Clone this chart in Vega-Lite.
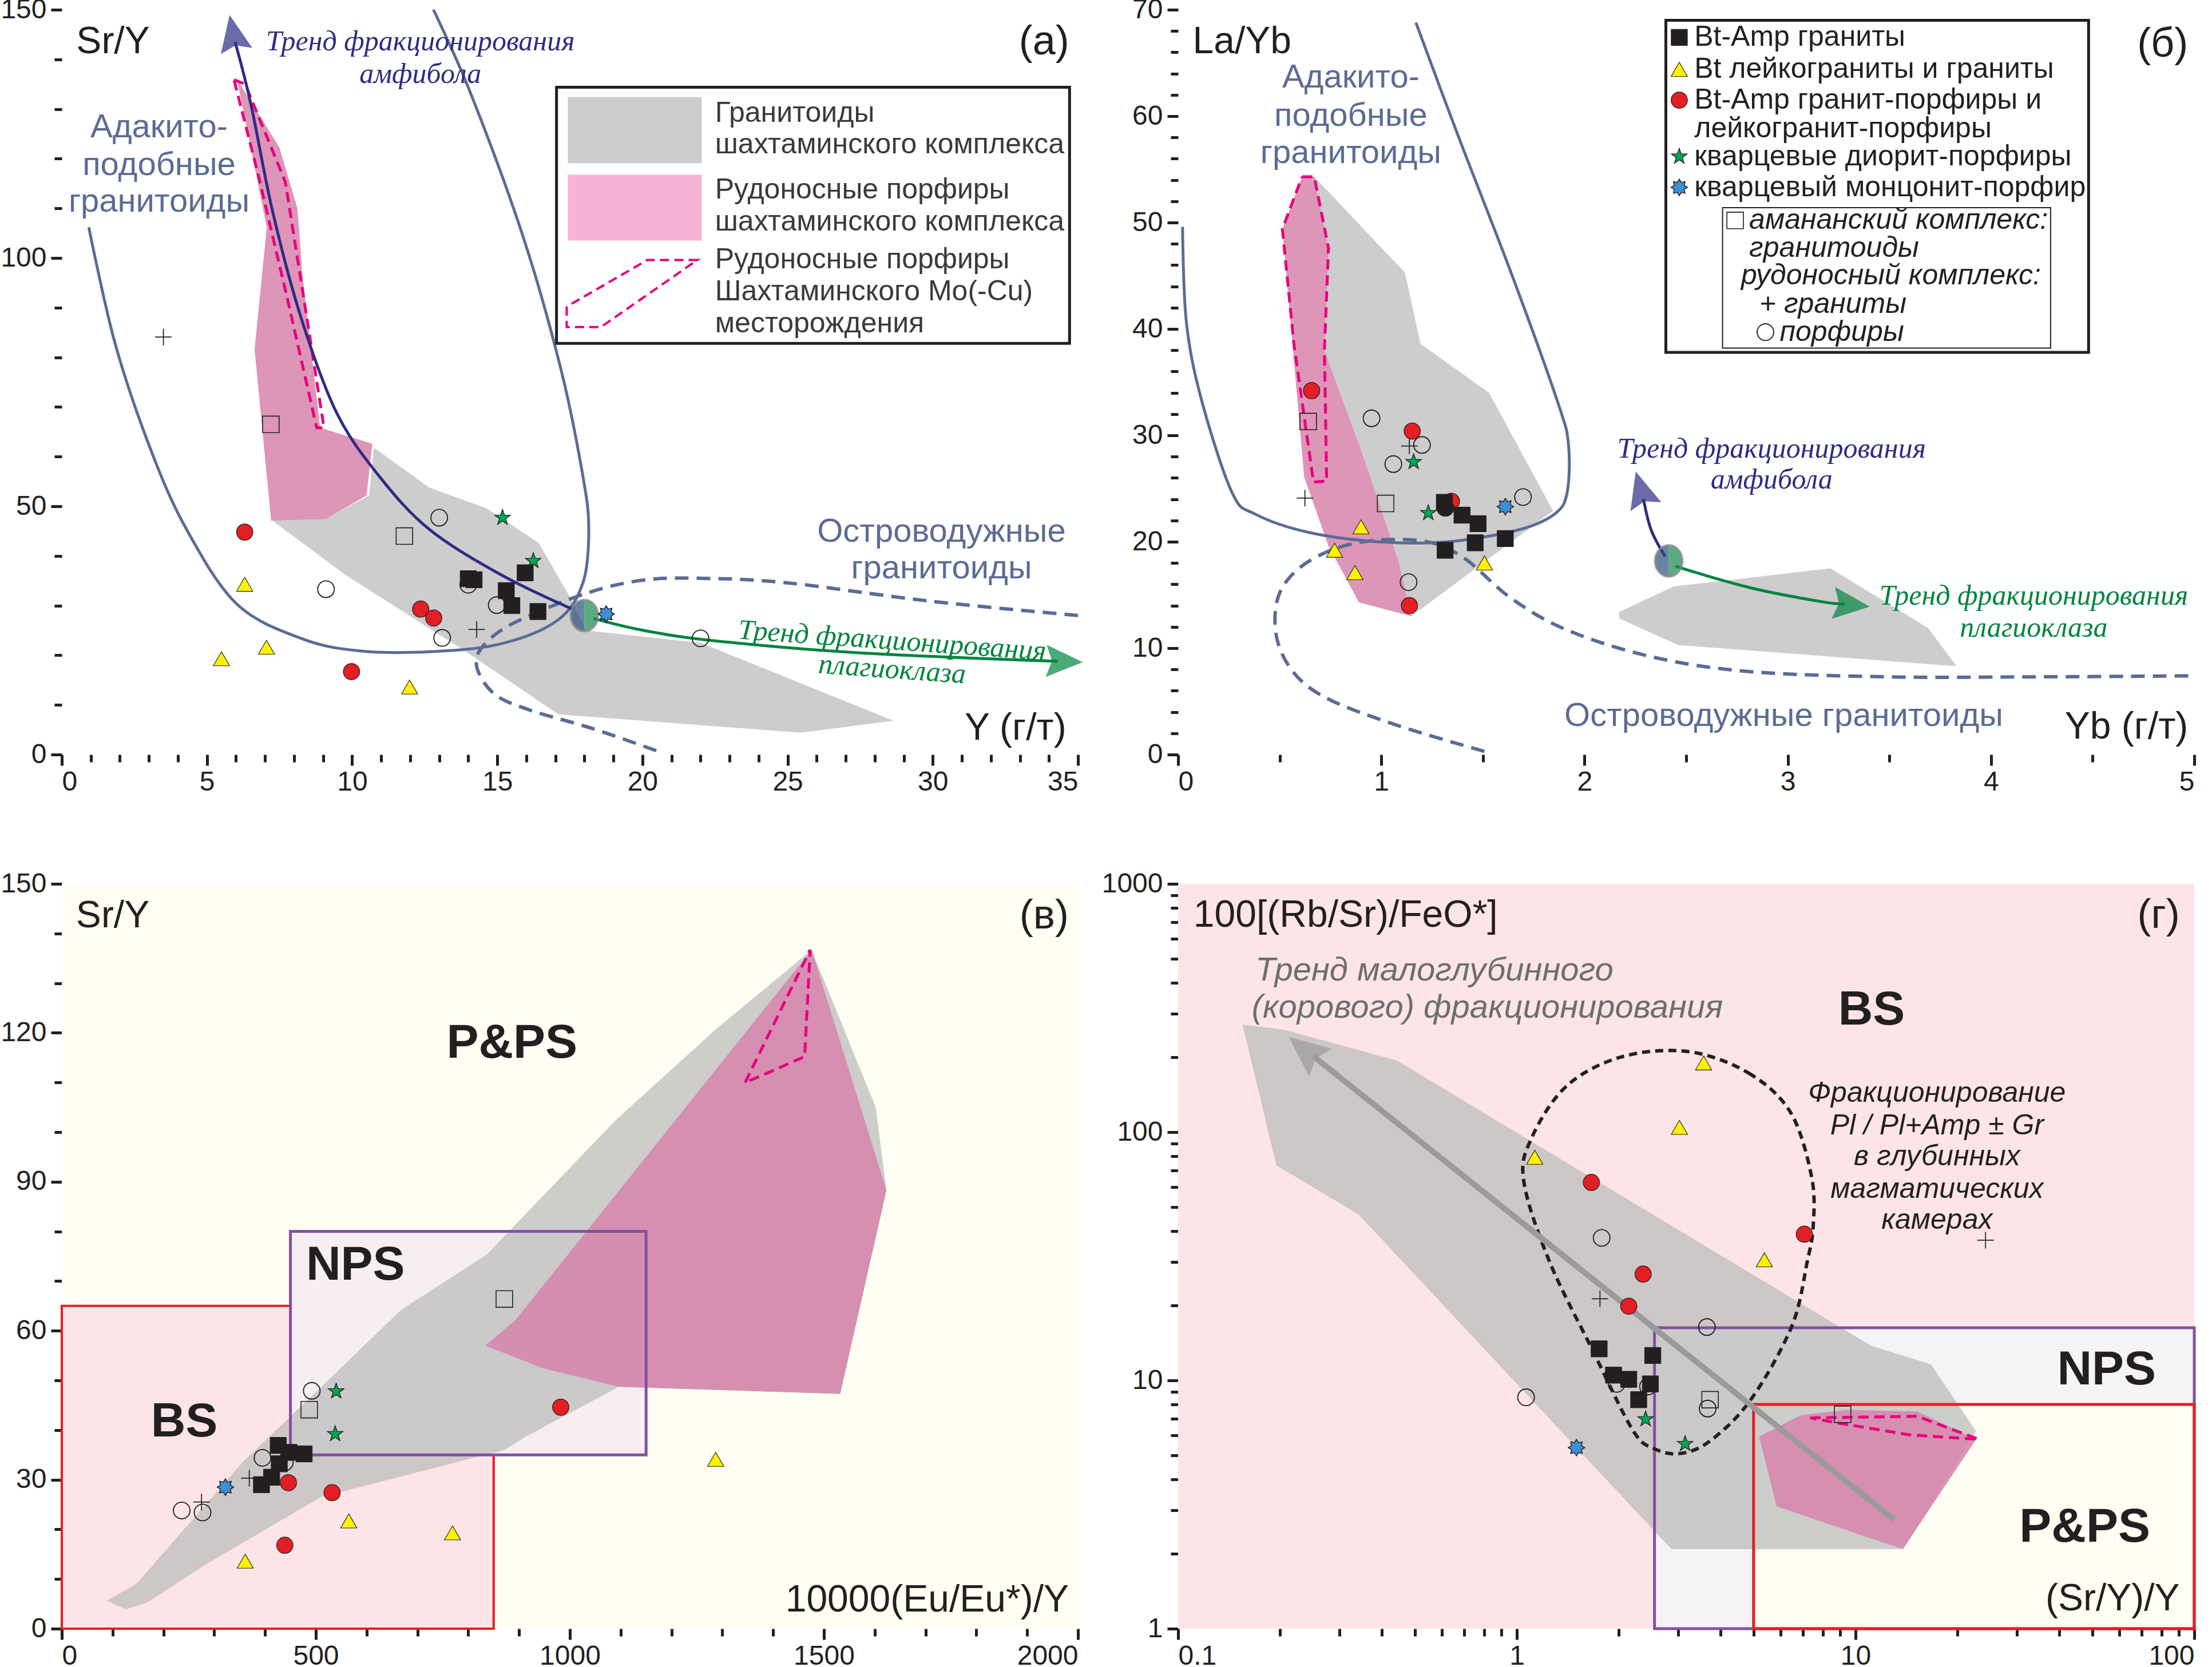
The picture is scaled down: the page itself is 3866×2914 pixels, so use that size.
{
"$schema":"https://vega.github.io/schema/vega-lite/v6.json",
"background":"white",
"padding":{"left":0,"top":-7,"right":0,"bottom":0},
"columns":2,
"spacing":{"row":226,"column":175},
"bounds":"flush",
"resolve":{"scale":{"x":"independent","y":"independent"}},
"config":{"view":{"stroke":null},
"axis":{"domain":false,"grid":false,"title":null,"labelFont":"Liberation Sans Narrow, Liberation Sans, Arial","labelFontSize":48,"labelColor":"#231f20","tickColor":"#231f20","tickWidth":5,"labelOverlap":false,"labelPadding":5},
"axisY":{"labelPadding":8}},
"datasets":{
"gray_a":[{"x":7.26,"y":47.1},{"x":9.1,"y":47.4},{"x":10.58,"y":52.2},{"x":10.75,"y":61.8},{"x":12.65,"y":53.8},{"x":14.63,"y":49.6},{"x":16.43,"y":42.6},{"x":17.56,"y":31.1},{"x":18.05,"y":25.0},{"x":22.01,"y":22.5},{"x":28.65,"y":6.8},{"x":25.45,"y":4.4},{"x":17.1,"y":8.1},{"x":13.93,"y":20.7},{"x":9.79,"y":36.1}],
"pink_a":[{"x":6.03,"y":136.1},{"x":7.5,"y":122.2},{"x":8.12,"y":109.9},{"x":8.29,"y":96.6},{"x":8.9,"y":65.8},{"x":10.7,"y":62.6},{"x":10.5,"y":52.2},{"x":9.1,"y":47.4},{"x":7.21,"y":47.1},{"x":6.64,"y":81.6},{"x":7.06,"y":106.2}],
"pdash_a":[{"x":5.93,"y":135.9},{"x":6.32,"y":135.0},{"x":7.7,"y":115.3},{"x":8.44,"y":88.0},{"x":9.03,"y":65.8},{"x":8.78,"y":65.8},{"x":7.75,"y":92.3},{"x":6.76,"y":116.9},{"x":5.93,"y":135.9}],
"adak_a":[{"x":0.93,"y":106.2},{"x":1.84,"y":82.7},{"x":3.07,"y":61.3},{"x":4.3,"y":45.3},{"x":6.03,"y":30.3},{"x":8.24,"y":23.4},{"x":10.21,"y":20.9},{"x":12.67,"y":20.7},{"x":15.13,"y":22.3},{"x":17.09,"y":27.1},{"x":17.95,"y":34.6},{"x":18.15,"y":45.3},{"x":17.95,"y":56.0},{"x":17.2,"y":77.4},{"x":15.9,"y":104.1},{"x":14.1,"y":132.9},{"x":12.8,"y":150}],
"isl_a":[{"x":35,"y":28.0},{"x":29.9,"y":30.9},{"x":24.96,"y":34.6},{"x":22.0,"y":35.5},{"x":20.0,"y":35.1},{"x":18.08,"y":32.5},{"x":15.6,"y":26.6},{"x":14.5,"y":21.8},{"x":14.3,"y":17.5},{"x":14.9,"y":12.2},{"x":16.1,"y":9.0},{"x":18.3,"y":5.2},{"x":20.66,"y":0.4}],
"amph_a":[{"x":17.58,"y":29.3},{"x":15.13,"y":36.2},{"x":12.67,"y":45.3},{"x":10.94,"y":56.0},{"x":9.47,"y":68.8},{"x":8.24,"y":88.0},{"x":7.26,"y":109.4},{"x":6.52,"y":130.8},{"x":5.97,"y":143.5}],
"plag_a":[{"x":18.32,"y":27.4},{"x":20.04,"y":25.0},{"x":22.5,"y":22.9},{"x":27.4,"y":20.5},{"x":34.3,"y":18.78}],
"pie_a":[{"x":18.0,"y":28.0}],
"pts_a":[{"c":"plus","x":3.5,"y":84.1},{"c":"osq","x":7.2,"y":66.5},{"c":"red","x":6.3,"y":44.8},{"c":"tri","x":6.3,"y":34.3},{"c":"ocirc","x":9.1,"y":33.3},{"c":"tri","x":5.5,"y":19.3},{"c":"tri","x":7.05,"y":21.6},{"c":"red","x":9.98,"y":16.7},{"c":"tri","x":11.98,"y":13.6},{"c":"ocirc","x":13.0,"y":47.7},{"c":"osq","x":11.8,"y":44.0},{"c":"star","x":15.18,"y":47.7},{"c":"star","x":16.24,"y":39.0},{"c":"sq","x":15.96,"y":36.6},{"c":"ocirc","x":14.0,"y":34.2},{"c":"sq","x":14.0,"y":35.4},{"c":"sq","x":14.2,"y":35.2},{"c":"sq","x":15.31,"y":33.0},{"c":"ocirc","x":14.98,"y":30.1},{"c":"sq","x":15.5,"y":30.0},{"c":"sq","x":16.4,"y":28.8},{"c":"red","x":12.36,"y":29.3},{"c":"red","x":12.81,"y":27.5},{"c":"plus","x":14.29,"y":25.2},{"c":"ocirc","x":13.1,"y":23.5},{"c":"burst","x":18.75,"y":28.3},{"c":"ocirc","x":22.0,"y":23.4}],
"gray_b":[{"x":0.67,"y":54.3},{"x":1.116,"y":45.3},{"x":1.193,"y":38.6},{"x":1.53,"y":34.0},{"x":1.845,"y":22.9},{"x":1.148,"y":13.0},{"x":1.086,"y":18.1},{"x":0.91,"y":28.1},{"x":0.72,"y":38.0},{"x":0.74,"y":47.6}],
"gray_b2":[{"x":2.17,"y":13.4},{"x":2.44,"y":15.8},{"x":3.21,"y":17.5},{"x":3.69,"y":11.9},{"x":3.83,"y":8.3},{"x":2.46,"y":10.3},{"x":2.17,"y":12.8}],
"pink_b":[{"x":0.61,"y":54.3},{"x":0.67,"y":54.3},{"x":0.74,"y":47.6},{"x":0.72,"y":38.0},{"x":0.91,"y":28.1},{"x":1.086,"y":18.1},{"x":1.148,"y":13.0},{"x":0.89,"y":14.3},{"x":0.74,"y":19.6},{"x":0.62,"y":26.1},{"x":0.513,"y":49.4}],
"pdash_b":[{"x":0.61,"y":54.3},{"x":0.67,"y":54.3},{"x":0.74,"y":47.6},{"x":0.72,"y":38.0},{"x":0.731,"y":25.7},{"x":0.666,"y":25.6},{"x":0.57,"y":38.6},{"x":0.513,"y":49.4},{"x":0.61,"y":54.3}],
"adak_b":[{"x":0.022,"y":49.6},{"x":0.041,"y":40.6},{"x":0.117,"y":33.2},{"x":0.266,"y":24.6},{"x":0.379,"y":22.6},{"x":0.638,"y":20.9},{"x":0.983,"y":20.0},{"x":1.328,"y":20.0},{"x":1.672,"y":21.1},{"x":1.852,"y":22.6},{"x":1.914,"y":24.6},{"x":1.921,"y":29.1},{"x":1.87,"y":33.0},{"x":1.646,"y":44.9},{"x":1.377,"y":58.2},{"x":1.17,"y":68.8}],
"isl_b":[{"x":1.507,"y":0.3},{"x":1.086,"y":2.7},{"x":0.741,"y":5.2},{"x":0.569,"y":7.7},{"x":0.483,"y":11.2},{"x":0.5,"y":15.2},{"x":0.638,"y":18.1},{"x":0.879,"y":19.9},{"x":1.19,"y":20.1},{"x":1.397,"y":18.6},{"x":1.638,"y":14.7},{"x":1.914,"y":11.7},{"x":2.328,"y":9.2},{"x":2.81,"y":7.8},{"x":3.5,"y":7.3},{"x":4.19,"y":7.3},{"x":5.0,"y":7.4}],
"amph_b":[{"x":2.397,"y":18.6},{"x":2.328,"y":21.1},{"x":2.29,"y":24.0}],
"plag_b":[{"x":2.448,"y":17.7},{"x":2.81,"y":15.7},{"x":3.155,"y":14.4},{"x":3.28,"y":14.15}],
"pie_b":[{"x":2.414,"y":18.2}],
"pts_b":[{"c":"red","x":0.657,"y":34.2},{"c":"osq","x":0.64,"y":31.3},{"c":"plus","x":0.624,"y":24.1},{"c":"ocirc","x":0.952,"y":31.6},{"c":"red","x":1.152,"y":30.4},{"c":"plus","x":1.138,"y":29.0},{"c":"ocirc","x":1.2,"y":29.1},{"c":"ocirc","x":1.059,"y":27.3},{"c":"star","x":1.159,"y":27.5},{"c":"osq","x":1.021,"y":23.6},{"c":"tri","x":0.9,"y":21.4},{"c":"tri","x":0.77,"y":19.2},{"c":"tri","x":0.87,"y":17.1},{"c":"star","x":1.231,"y":22.7},{"c":"red","x":1.345,"y":23.8},{"c":"sq","x":1.31,"y":23.7},{"c":"dot","x":1.315,"y":23.2},{"c":"sq","x":1.397,"y":22.5},{"c":"sq","x":1.476,"y":21.7},{"c":"sq","x":1.314,"y":19.2},{"c":"sq","x":1.462,"y":19.9},{"c":"sq","x":1.61,"y":20.3},{"c":"tri","x":1.507,"y":18.0},{"c":"burst","x":1.61,"y":23.3},{"c":"ocirc","x":1.697,"y":24.2},{"c":"ocirc","x":1.134,"y":16.2},{"c":"red","x":1.138,"y":14.0}],
"legsym_b":[{"c":"sq","x":2.466,"y":67.4},{"c":"tri","x":2.466,"y":64.4},{"c":"red","x":2.466,"y":61.5},{"c":"star","x":2.466,"y":56.2},{"c":"burst","x":2.466,"y":53.3},{"c":"osq","x":2.741,"y":50.2},{"c":"ocirc","x":2.89,"y":39.7}],
"gray_c":[{"x":88.5,"y":5.6},{"x":126.5,"y":3.9},{"x":168.7,"y":5.3},{"x":281.1,"y":12.8},{"x":510,"y":26.5},{"x":871.4,"y":36.0},{"x":913.6,"y":38.7},{"x":1096.3,"y":48.7},{"x":1532,"y":47.3},{"x":1623,"y":88.3},{"x":1602,"y":105.0},{"x":1475.8,"y":136.7},{"x":1286,"y":120.6},{"x":1089,"y":102.3},{"x":836,"y":75.3},{"x":667.6,"y":64.2},{"x":513,"y":48.9},{"x":358.4,"y":33.8},{"x":147.6,"y":9.1}],
"pink_c":[{"x":833.5,"y":57.0},{"x":892.5,"y":62.1},{"x":1475.8,"y":136.7},{"x":1623,"y":88.3},{"x":1532,"y":47.3},{"x":1096.3,"y":48.7},{"x":948.7,"y":52.4}],
"pdash_c":[{"x":1345,"y":110.0},{"x":1473,"y":136.7},{"x":1462,"y":115.2},{"x":1391,"y":112.0},{"x":1345,"y":110.0}],
"pts_c":[{"c":"osq","x":871,"y":66.4},{"c":"ocirc","x":492,"y":47.9},{"c":"osq","x":487,"y":44.1},{"c":"star","x":540,"y":47.8},{"c":"star","x":538,"y":39.2},{"c":"red","x":982,"y":44.6},{"c":"tri","x":1287,"y":34.1},{"c":"ocirc","x":395,"y":34.4},{"c":"ocirc","x":439,"y":33.5},{"c":"sq","x":426,"y":36.9},{"c":"sq","x":447,"y":35.5},{"c":"sq","x":477,"y":35.2},{"c":"sq","x":428,"y":33.2},{"c":"sq","x":413,"y":30.5},{"c":"sq","x":393,"y":29.0},{"c":"plus","x":369,"y":30.3},{"c":"red","x":446,"y":29.4},{"c":"red","x":532,"y":27.4},{"c":"burst","x":322,"y":28.5},{"c":"plus","x":275,"y":25.5},{"c":"ocirc","x":236,"y":23.8},{"c":"ocirc","x":277,"y":23.4},{"c":"tri","x":565,"y":21.7},{"c":"tri","x":769,"y":19.3},{"c":"red","x":439,"y":16.8},{"c":"tri","x":361,"y":13.6}],
"gray_d":[{"x":0.155,"y":271},{"x":0.207,"y":258},{"x":0.443,"y":194},{"x":11.1,"y":13.8},{"x":16.7,"y":11.6},{"x":22.7,"y":6.24},{"x":13.8,"y":2.09},{"x":2.86,"y":2.09},{"x":0.341,"y":46.6},{"x":0.195,"y":73.5}],
"pink_d":[{"x":5.19,"y":5.94},{"x":6.9,"y":7.24},{"x":9.42,"y":7.61},{"x":15.2,"y":7.5},{"x":22.7,"y":5.79},{"x":13.8,"y":2.09},{"x":5.85,"y":3.11}],
"pdash_d":[{"x":7.35,"y":7.06},{"x":15.2,"y":7.17},{"x":23.1,"y":5.79},{"x":14.5,"y":6.03},{"x":8.98,"y":6.72},{"x":7.35,"y":7.06}],
"drop_d":[{"x":3.21,"y":211},{"x":4.83,"y":173},{"x":6.43,"y":120},{"x":7.42,"y":65.9},{"x":7.5,"y":42},{"x":7.2,"y":30},{"x":6.48,"y":16.5},{"x":4.92,"y":8.41},{"x":3.75,"y":5.75},{"x":3.05,"y":5.08},{"x":2.55,"y":5.3},{"x":2.2,"y":6.3},{"x":1.68,"y":13.1},{"x":1.25,"y":30},{"x":1.05,"y":62.7},{"x":1.1,"y":93.3},{"x":1.4,"y":153},{"x":2.04,"y":201}],
"arr_d":[{"x":13.0,"y":2.75},{"x":0.25,"y":203}],
"pts_d":[{"c":"tri","x":3.56,"y":190},{"c":"tri","x":3.02,"y":104.5},{"c":"tri","x":1.13,"y":79.2},{"c":"red","x":1.66,"y":62.7},{"c":"ocirc","x":1.78,"y":37.5},{"c":"red","x":7.06,"y":38.8},{"c":"tri","x":5.38,"y":30.6},{"c":"plus","x":24.2,"y":36.7},{"c":"red","x":2.36,"y":26.8},{"c":"red","x":2.14,"y":19.9},{"c":"plus","x":1.76,"y":21.3},{"c":"ocirc","x":3.64,"y":16.4},{"c":"sq","x":1.75,"y":13.4},{"c":"sq","x":2.52,"y":12.6},{"c":"ocirc","x":1.97,"y":9.68},{"c":"sq","x":1.93,"y":10.5},{"c":"sq","x":2.14,"y":10.1},{"c":"ocirc","x":2.44,"y":9.45},{"c":"sq","x":2.48,"y":9.68},{"c":"sq","x":2.29,"y":8.36},{"c":"osq","x":3.72,"y":8.36},{"c":"ocirc","x":3.66,"y":7.7},{"c":"osq","x":9.16,"y":7.3},{"c":"ocirc","x":1.065,"y":8.55},{"c":"star","x":2.4,"y":6.98},{"c":"star","x":3.14,"y":5.55},{"c":"burst","x":1.5,"y":5.36}]
},
"concat":[
{
"width":1776,"height":1302,
"encoding":{
"x":{"field":"x","type":"quantitative","scale":{"domain":[0,35],"nice":false,"zero":false},"axis":{"values":[0,1,2,3,4,5,6,7,8,9,10,11,12,13,14,15,16,17,18,19,20,21,22,23,24,25,26,27,28,29,30,31,32,33,34,35],"labelExpr":"datum.value % 5 === 0 ? format(datum.value, '~g') : ''","tickSize":{"condition":{"test":"datum.value % 5 === 0","value":19},"value":13}}},
"y":{"field":"y","type":"quantitative","scale":{"domain":[0,150],"nice":false,"zero":false},"axis":{"values":[0,10,20,30,40,50,60,70,80,90,100,110,120,130,140,150],"labelExpr":"datum.value % 50 === 0 ? format(datum.value, '~g') : ''","tickSize":{"condition":{"test":"datum.value % 50 === 0","value":19},"value":13}}}
},
"layer":[
{"data":{"name":"gray_a"},"mark":{"type":"line","fill":"#bcbcbc","fillOpacity":0.75,"strokeWidth":0},"encoding":{"order":{"value":null}}},
{"data":{"name":"pink_a"},"mark":{"type":"line","fill":"#d784ac","fillOpacity":0.85,"strokeWidth":0},"encoding":{"order":{"value":null}}},
{"data":{"name":"pdash_a"},"mark":{"type":"line","stroke":"#e6007e","strokeWidth":5,"strokeDash":[18,10]},"encoding":{"order":{"value":null}}},
{"data":{"name":"adak_a"},"mark":{"type":"line","stroke":"#5b6c94","strokeWidth":5,"interpolate":"cardinal"},"encoding":{"order":{"value":null}}},
{"data":{"name":"isl_a"},"mark":{"type":"line","stroke":"#5b6c94","strokeWidth":6,"strokeDash":[24,14],"interpolate":"cardinal"},"encoding":{"order":{"value":null}}},
{"data":{"name":"amph_a"},"mark":{"type":"line","stroke":"#2e2c84","strokeWidth":5,"interpolate":"cardinal"},"encoding":{"order":{"value":null}}},
{"data":{"name":"plag_a"},"mark":{"type":"line","stroke":"#00843f","strokeWidth":5,"interpolate":"cardinal"},"encoding":{"order":{"value":null}}},
{"data":{"values":[{"x":5.93,"y":144.4}]},"mark":{"type":"point","shape":"M0,-1L0.7,0.6L0,0.35L-0.7,0.6Z","size":6400,"filled":true,"fill":"#2e2c84","strokeWidth":0,"angle":-11}},
{"data":{"values":[{"x":34.38,"y":18.76}]},"mark":{"type":"point","shape":"M0,-1L0.7,0.6L0,0.35L-0.7,0.6Z","size":6400,"filled":true,"fill":"#00843f","strokeWidth":0,"angle":92}},
{"data":{"values":[{"x":17.04,"x2":34.71,"y":82.8,"y2":134.4}]},"mark":{"type":"rect","fill":"white","stroke":"#231f20","strokeWidth":5},"encoding":{"x2":{"field":"x2"},"y2":{"field":"y2"}}},
{"data":{"values":[{"x":17.43,"x2":22.04,"y":119.1,"y2":132.4}]},"mark":{"type":"rect","fill":"#cccccc"},"encoding":{"x2":{"field":"x2"},"y2":{"field":"y2"}}},
{"data":{"values":[{"x":17.43,"x2":22.04,"y":103.5,"y2":116.8}]},"mark":{"type":"rect","fill":"#f7b3d5"},"encoding":{"x2":{"field":"x2"},"y2":{"field":"y2"}}},
{"data":{"values":[{"x":17.39,"y":90.2},{"x":17.39,"y":86.1},{"x":18.57,"y":86.1},{"x":21.89,"y":99.6},{"x":20.17,"y":99.6},{"x":17.39,"y":90.2}]},"mark":{"type":"line","stroke":"#e6007e","strokeWidth":4,"strokeDash":[16,9]},"encoding":{"order":{"value":null}}},
{"data":{"values":[{"x":22.5,"y":129.2,"t":"Гранитоиды"},{"x":22.5,"y":122.8,"t":"шахтаминского комплекса"},{"x":22.5,"y":113.7,"t":"Рудоносные порфиры"},{"x":22.5,"y":107.3,"t":"шахтаминского комплекса"},{"x":22.5,"y":99.6,"t":"Рудоносные порфиры"},{"x":22.5,"y":93.2,"t":"Шахтаминского Mo(-Cu)"},{"x":22.5,"y":86.8,"t":"месторождения"}]},"mark":{"type":"text","align":"left","baseline":"middle","font":"Liberation Sans, Arial","fontSize":50,"color":"#3a3a3a"},"encoding":{"text":{"field":"t"}}},
{"data":{"name":"pie_a"},"mark":{"type":"point","shape":"M0,-1A0.87,1 0 0,0 0,1Z","size":3025,"filled":true,"fill":"#2a4f7e","strokeWidth":0}},
{"data":{"name":"pie_a"},"mark":{"type":"point","shape":"M0,-1A0.87,1 0 0,1 0,1Z","size":3025,"filled":true,"fill":"#17874a","strokeWidth":0}},
{"data":{"name":"pie_a"},"mark":{"type":"point","shape":"M0,-1A0.87,1 0 0,0 0,1A0.87,1 0 0,0 0,-1Z","size":3025,"filled":false,"stroke":"#8a8a8a","strokeWidth":4}},
{"data":{"name":"pts_a"},"mark":{"type":"point","filled":true,"stroke":"#231f20","opacity":1},
"encoding":{
"shape":{"field":"c","type":"nominal","legend":null,"scale":{"domain":["sq","tri","red","star","burst","osq","plus","ocirc","dot"],"range":["square","triangle-up","circle","M0,-1L0.235,-0.324L0.951,-0.309L0.38,0.124L0.588,0.809L0,0.4L-0.588,0.809L-0.38,0.124L-0.951,-0.309L-0.235,-0.324Z","M1,0L0.6,0.249L0.707,0.707L0.249,0.6L0,1L-0.249,0.6L-0.707,0.707L-0.6,0.249L-1,0L-0.6,-0.249L-0.707,-0.707L-0.249,-0.6L0,-1L0.249,-0.6L0.707,-0.707L0.6,-0.249Z","square","M-1,0L1,0M0,-1L0,1","circle","circle"]}},
"fill":{"field":"c","type":"nominal","legend":null,"scale":{"domain":["sq","tri","red","star","burst","osq","plus","ocirc","dot"],"range":["#231f20","#fff200","#e31e24","#00a651","#3d8fd6","transparent","transparent","transparent","#231f20"]}},
"strokeWidth":{"field":"c","type":"ordinal","legend":null,"scale":{"domain":["sq","tri","red","star","burst","osq","plus","ocirc","dot"],"range":[1,2,2,2,2,5.5,5,5.5,1]}},
"size":{"field":"c","type":"ordinal","legend":null,"scale":{"domain":["sq","tri","red","star","burst","osq","plus","ocirc","dot"],"range":[800,850,750,1900,1200,700,750,700,800]}}}},
{"data":{"values":[{"x":0.5,"y":143.5,"t":"Sr/Y"}]},"mark":{"type":"text","align":"left","baseline":"middle","font":"Liberation Sans, Arial","fontSize":66,"color":"#231f20"},"encoding":{"text":{"field":"t"}}},
{"data":{"values":[{"x":34.7,"y":143.5,"t":"(а)"}]},"mark":{"type":"text","align":"right","baseline":"middle","font":"Liberation Sans, Arial","fontSize":72,"color":"#231f20"},"encoding":{"text":{"field":"t"}}},
{"data":{"values":[{"x":34.6,"y":5.3,"t":"Y (г/т)"}]},"mark":{"type":"text","align":"right","baseline":"middle","font":"Liberation Sans, Arial","fontSize":66,"color":"#231f20"},"encoding":{"text":{"field":"t"}}},
{"data":{"values":[{"x":3.35,"y":126.3,"t":"Адакито-"},{"x":3.35,"y":118.7,"t":"подобные"},{"x":3.35,"y":111.3,"t":"гранитоиды"},{"x":30.3,"y":44.8,"t":"Островодужные"},{"x":30.3,"y":37.4,"t":"гранитоиды"}]},"mark":{"type":"text","align":"center","baseline":"middle","font":"Liberation Sans, Arial","fontSize":58,"color":"#5b6c94"},"encoding":{"text":{"field":"t"}}},
{"data":{"values":[{"x":12.35,"y":143.6,"t":"Тренд фракционирования"},{"x":12.35,"y":137.0,"t":"амфибола"}]},"mark":{"type":"text","align":"center","baseline":"middle","font":"Liberation Serif, Times New Roman","fontStyle":"italic","fontSize":50,"color":"#2e2c84"},"encoding":{"text":{"field":"t"}}},
{"data":{"values":[{"x":28.6,"y":22.9,"t":"Тренд фракционирования"},{"x":28.6,"y":17.1,"t":"плагиоклаза"}]},"mark":{"type":"text","align":"center","baseline":"middle","angle":4,"font":"Liberation Serif, Times New Roman","fontStyle":"italic","fontSize":50,"color":"#00843f"},"encoding":{"text":{"field":"t"}}},
{"data":{"values":[{}]},"mark":{"type":"rect","filled":false,"stroke":"#231f20","strokeWidth":5},"encoding":{"x":{"datum":0,"type":"quantitative"},"x2":{"datum":35},"y":{"datum":0,"type":"quantitative"},"y2":{"datum":150}}}
]
},
{
"width":1776,"height":1302,
"encoding":{
"x":{"field":"x","type":"quantitative","scale":{"domain":[0,5],"nice":false,"zero":false},"axis":{"values":[0,0.5,1,1.5,2,2.5,3,3.5,4,4.5,5],"labelExpr":"datum.value % 1 === 0 ? format(datum.value, '~g') : ''","tickSize":{"condition":{"test":"datum.value % 1 === 0","value":19},"value":13}}},
"y":{"field":"y","type":"quantitative","scale":{"domain":[0,70],"nice":false,"zero":false},"axis":{"values":[0,2,4,6,8,10,12,14,16,18,20,22,24,26,28,30,32,34,36,38,40,42,44,46,48,50,52,54,56,58,60,62,64,66,68,70],"labelExpr":"datum.value % 10 === 0 ? format(datum.value, '~g') : ''","tickSize":{"condition":{"test":"datum.value % 10 === 0","value":19},"value":13}}}
},
"layer":[
{"data":{"name":"gray_b"},"mark":{"type":"line","fill":"#bcbcbc","fillOpacity":0.75,"strokeWidth":0},"encoding":{"order":{"value":null}}},
{"data":{"name":"gray_b2"},"mark":{"type":"line","fill":"#bcbcbc","fillOpacity":0.75,"strokeWidth":0},"encoding":{"order":{"value":null}}},
{"data":{"name":"pink_b"},"mark":{"type":"line","fill":"#d784ac","fillOpacity":0.85,"strokeWidth":0},"encoding":{"order":{"value":null}}},
{"data":{"name":"pdash_b"},"mark":{"type":"line","stroke":"#e6007e","strokeWidth":5,"strokeDash":[18,10]},"encoding":{"order":{"value":null}}},
{"data":{"name":"adak_b"},"mark":{"type":"line","stroke":"#5b6c94","strokeWidth":5,"interpolate":"cardinal"},"encoding":{"order":{"value":null}}},
{"data":{"name":"isl_b"},"mark":{"type":"line","stroke":"#5b6c94","strokeWidth":6,"strokeDash":[24,14],"interpolate":"cardinal"},"encoding":{"order":{"value":null}}},
{"data":{"name":"amph_b"},"mark":{"type":"line","stroke":"#2e2c84","strokeWidth":5,"interpolate":"cardinal"},"encoding":{"order":{"value":null}}},
{"data":{"name":"plag_b"},"mark":{"type":"line","stroke":"#00843f","strokeWidth":5,"interpolate":"cardinal"},"encoding":{"order":{"value":null}}},
{"data":{"values":[{"x":2.283,"y":24.53}]},"mark":{"type":"point","shape":"M0,-1L0.7,0.6L0,0.35L-0.7,0.6Z","size":6400,"filled":true,"fill":"#2e2c84","strokeWidth":0,"angle":-16}},
{"data":{"values":[{"x":3.291,"y":14.12}]},"mark":{"type":"point","shape":"M0,-1L0.7,0.6L0,0.35L-0.7,0.6Z","size":6400,"filled":true,"fill":"#00843f","strokeWidth":0,"angle":96}},
{"data":{"name":"pie_b"},"mark":{"type":"point","shape":"M0,-1A0.87,1 0 0,0 0,1Z","size":3025,"filled":true,"fill":"#2a4f7e","strokeWidth":0}},
{"data":{"name":"pie_b"},"mark":{"type":"point","shape":"M0,-1A0.87,1 0 0,1 0,1Z","size":3025,"filled":true,"fill":"#17874a","strokeWidth":0}},
{"data":{"name":"pie_b"},"mark":{"type":"point","shape":"M0,-1A0.87,1 0 0,0 0,1A0.87,1 0 0,0 0,-1Z","size":3025,"filled":false,"stroke":"#8a8a8a","strokeWidth":4}},
{"data":{"values":[{"x":2.4,"x2":4.48,"y":37.8,"y2":69.0}]},"mark":{"type":"rect","fill":"white","stroke":"#231f20","strokeWidth":5},"encoding":{"x2":{"field":"x2"},"y2":{"field":"y2"}}},
{"data":{"values":[{"x":2.679,"x2":4.293,"y":38.2,"y2":51.4}]},"mark":{"type":"rect","fill":"white","stroke":"#231f20","strokeWidth":2},"encoding":{"x2":{"field":"x2"},"y2":{"field":"y2"}}},
{"data":{"name":"pts_b"},"mark":{"type":"point","filled":true,"stroke":"#231f20","opacity":1},
"encoding":{
"shape":{"field":"c","type":"nominal","legend":null,"scale":{"domain":["sq","tri","red","star","burst","osq","plus","ocirc","dot"],"range":["square","triangle-up","circle","M0,-1L0.235,-0.324L0.951,-0.309L0.38,0.124L0.588,0.809L0,0.4L-0.588,0.809L-0.38,0.124L-0.951,-0.309L-0.235,-0.324Z","M1,0L0.6,0.249L0.707,0.707L0.249,0.6L0,1L-0.249,0.6L-0.707,0.707L-0.6,0.249L-1,0L-0.6,-0.249L-0.707,-0.707L-0.249,-0.6L0,-1L0.249,-0.6L0.707,-0.707L0.6,-0.249Z","square","M-1,0L1,0M0,-1L0,1","circle","circle"]}},
"fill":{"field":"c","type":"nominal","legend":null,"scale":{"domain":["sq","tri","red","star","burst","osq","plus","ocirc","dot"],"range":["#231f20","#fff200","#e31e24","#00a651","#3d8fd6","transparent","transparent","transparent","#231f20"]}},
"strokeWidth":{"field":"c","type":"ordinal","legend":null,"scale":{"domain":["sq","tri","red","star","burst","osq","plus","ocirc","dot"],"range":[1,2,2,2,2,5.5,5,5.5,1]}},
"size":{"field":"c","type":"ordinal","legend":null,"scale":{"domain":["sq","tri","red","star","burst","osq","plus","ocirc","dot"],"range":[800,850,750,1900,1200,700,750,700,800]}}}},
{"data":{"name":"legsym_b"},"mark":{"type":"point","filled":true,"stroke":"#231f20","opacity":1},
"encoding":{
"shape":{"field":"c","type":"nominal","legend":null,"scale":{"domain":["sq","tri","red","star","burst","osq","plus","ocirc","dot"],"range":["square","triangle-up","circle","M0,-1L0.235,-0.324L0.951,-0.309L0.38,0.124L0.588,0.809L0,0.4L-0.588,0.809L-0.38,0.124L-0.951,-0.309L-0.235,-0.324Z","M1,0L0.6,0.249L0.707,0.707L0.249,0.6L0,1L-0.249,0.6L-0.707,0.707L-0.6,0.249L-1,0L-0.6,-0.249L-0.707,-0.707L-0.249,-0.6L0,-1L0.249,-0.6L0.707,-0.707L0.6,-0.249Z","square","M-1,0L1,0M0,-1L0,1","circle","circle"]}},
"fill":{"field":"c","type":"nominal","legend":null,"scale":{"domain":["sq","tri","red","star","burst","osq","plus","ocirc","dot"],"range":["#231f20","#fff200","#e31e24","#00a651","#3d8fd6","transparent","transparent","transparent","#231f20"]}},
"strokeWidth":{"field":"c","type":"ordinal","legend":null,"scale":{"domain":["sq","tri","red","star","burst","osq","plus","ocirc","dot"],"range":[1,2,2,2,2,5.5,5,5.5,1]}},
"size":{"field":"c","type":"ordinal","legend":null,"scale":{"domain":["sq","tri","red","star","burst","osq","plus","ocirc","dot"],"range":[800,850,750,1900,1200,700,750,700,800]}}}},
{"data":{"values":[{"x":2.54,"y":67.4,"t":"Bt-Amp граниты"},{"x":2.54,"y":64.4,"t":"Bt лейкограниты и граниты"},{"x":2.54,"y":61.5,"t":"Bt-Amp гранит-порфиры и"},{"x":2.54,"y":58.8,"t":"лейкогранит-порфиры"},{"x":2.54,"y":56.2,"t":"кварцевые диорит-порфиры"},{"x":2.54,"y":53.3,"t":"кварцевый монцонит-порфир"}]},"mark":{"type":"text","align":"left","baseline":"middle","font":"Liberation Sans, Arial","fontSize":50,"color":"#231f20"},"encoding":{"text":{"field":"t"}}},
{"data":{"values":[{"x":2.81,"y":50.2,"t":"амананский комплекс:"},{"x":2.81,"y":47.6,"t":"гранитоиды"},{"x":2.77,"y":45.0,"t":"рудоносный комплекс:"},{"x":2.86,"y":42.3,"t":"+ граниты"},{"x":2.96,"y":39.7,"t":"порфиры"}]},"mark":{"type":"text","align":"left","baseline":"middle","font":"Liberation Sans, Arial","fontStyle":"italic","fontSize":50,"color":"#231f20"},"encoding":{"text":{"field":"t"}}},
{"data":{"values":[{"x":0.072,"y":67.0,"t":"La/Yb"}]},"mark":{"type":"text","align":"left","baseline":"middle","font":"Liberation Sans, Arial","fontSize":66,"color":"#231f20"},"encoding":{"text":{"field":"t"}}},
{"data":{"values":[{"x":4.97,"y":66.8,"t":"(б)"}]},"mark":{"type":"text","align":"right","baseline":"middle","font":"Liberation Sans, Arial","fontSize":72,"color":"#231f20"},"encoding":{"text":{"field":"t"}}},
{"data":{"values":[{"x":4.97,"y":2.6,"t":"Yb (г/т)"}]},"mark":{"type":"text","align":"right","baseline":"middle","font":"Liberation Sans, Arial","fontSize":66,"color":"#231f20"},"encoding":{"text":{"field":"t"}}},
{"data":{"values":[{"x":0.85,"y":63.6,"t":"Адакито-"},{"x":0.85,"y":60.0,"t":"подобные"},{"x":0.85,"y":56.5,"t":"гранитоиды"},{"x":2.98,"y":3.6,"t":"Островодужные гранитоиды"}]},"mark":{"type":"text","align":"center","baseline":"middle","font":"Liberation Sans, Arial","fontSize":58,"color":"#5b6c94"},"encoding":{"text":{"field":"t"}}},
{"data":{"values":[{"x":2.92,"y":28.7,"t":"Тренд фракционирования"},{"x":2.92,"y":25.8,"t":"амфибола"}]},"mark":{"type":"text","align":"center","baseline":"middle","font":"Liberation Serif, Times New Roman","fontStyle":"italic","fontSize":50,"color":"#2e2c84"},"encoding":{"text":{"field":"t"}}},
{"data":{"values":[{"x":4.21,"y":14.9,"t":"Тренд фракционирования"},{"x":4.21,"y":11.9,"t":"плагиоклаза"}]},"mark":{"type":"text","align":"center","baseline":"middle","font":"Liberation Serif, Times New Roman","fontStyle":"italic","fontSize":50,"color":"#00843f"},"encoding":{"text":{"field":"t"}}},
{"data":{"values":[{}]},"mark":{"type":"rect","filled":false,"stroke":"#231f20","strokeWidth":5},"encoding":{"x":{"datum":0,"type":"quantitative"},"x2":{"datum":5},"y":{"datum":0,"type":"quantitative"},"y2":{"datum":70}}}
]
},
{
"width":1776,"height":1302,
"encoding":{
"x":{"field":"x","type":"quantitative","scale":{"domain":[0,2000],"nice":false,"zero":false},"axis":{"values":[0,100,200,300,400,500,600,700,800,900,1000,1100,1200,1300,1400,1500,1600,1700,1800,1900,2000],"labelExpr":"datum.value % 500 === 0 ? format(datum.value, '~g') : ''","tickSize":{"condition":{"test":"datum.value % 500 === 0","value":19},"value":13}}},
"y":{"field":"y","type":"quantitative","scale":{"domain":[0,150],"nice":false,"zero":false},"axis":{"values":[0,10,20,30,40,50,60,70,80,90,100,110,120,130,140,150],"labelExpr":"datum.value % 30 === 0 ? format(datum.value, '~g') : ''","tickSize":{"condition":{"test":"datum.value % 30 === 0","value":19},"value":13}}}
},
"layer":[
{"data":{"values":[{"x":0,"x2":2000,"y":0,"y2":150}]},"mark":{"type":"rect","fill":"#fefef2"},"encoding":{"x2":{"field":"x2"},"y2":{"field":"y2"}}},
{"data":{"values":[{"x":0,"x2":850,"y":0,"y2":65}]},"mark":{"type":"rect","fill":"#fde5e7","stroke":"#e41f26","strokeWidth":4},"encoding":{"x2":{"field":"x2"},"y2":{"field":"y2"}}},
{"data":{"values":[{"x":450,"x2":1150,"y":35,"y2":80}]},"mark":{"type":"rect","fill":"#f6eef2"},"encoding":{"x2":{"field":"x2"},"y2":{"field":"y2"}}},
{"data":{"name":"gray_c"},"mark":{"type":"line","fill":"#bcbcbc","fillOpacity":0.75,"strokeWidth":0},"encoding":{"order":{"value":null}}},
{"data":{"name":"pink_c"},"mark":{"type":"line","fill":"#d784ac","fillOpacity":0.85,"strokeWidth":0},"encoding":{"order":{"value":null}}},
{"data":{"name":"pdash_c"},"mark":{"type":"line","stroke":"#e6007e","strokeWidth":5,"strokeDash":[18,10]},"encoding":{"order":{"value":null}}},
{"data":{"values":[{"x":450,"x2":1150,"y":35,"y2":80}]},"mark":{"type":"rect","filled":false,"stroke":"#8450a0","strokeWidth":5},"encoding":{"x2":{"field":"x2"},"y2":{"field":"y2"}}},
{"data":{"name":"pts_c"},"mark":{"type":"point","filled":true,"stroke":"#231f20","opacity":1},
"encoding":{
"shape":{"field":"c","type":"nominal","legend":null,"scale":{"domain":["sq","tri","red","star","burst","osq","plus","ocirc","dot"],"range":["square","triangle-up","circle","M0,-1L0.235,-0.324L0.951,-0.309L0.38,0.124L0.588,0.809L0,0.4L-0.588,0.809L-0.38,0.124L-0.951,-0.309L-0.235,-0.324Z","M1,0L0.6,0.249L0.707,0.707L0.249,0.6L0,1L-0.249,0.6L-0.707,0.707L-0.6,0.249L-1,0L-0.6,-0.249L-0.707,-0.707L-0.249,-0.6L0,-1L0.249,-0.6L0.707,-0.707L0.6,-0.249Z","square","M-1,0L1,0M0,-1L0,1","circle","circle"]}},
"fill":{"field":"c","type":"nominal","legend":null,"scale":{"domain":["sq","tri","red","star","burst","osq","plus","ocirc","dot"],"range":["#231f20","#fff200","#e31e24","#00a651","#3d8fd6","transparent","transparent","transparent","#231f20"]}},
"strokeWidth":{"field":"c","type":"ordinal","legend":null,"scale":{"domain":["sq","tri","red","star","burst","osq","plus","ocirc","dot"],"range":[1,2,2,2,2,5.5,5,5.5,1]}},
"size":{"field":"c","type":"ordinal","legend":null,"scale":{"domain":["sq","tri","red","star","burst","osq","plus","ocirc","dot"],"range":[800,850,750,1900,1200,700,750,700,800]}}}},
{"data":{"values":[{"x":28,"y":143.5,"t":"Sr/Y"}]},"mark":{"type":"text","align":"left","baseline":"middle","font":"Liberation Sans, Arial","fontSize":66,"color":"#231f20"},"encoding":{"text":{"field":"t"}}},
{"data":{"values":[{"x":1982,"y":143.5,"t":"(в)"}]},"mark":{"type":"text","align":"right","baseline":"middle","font":"Liberation Sans, Arial","fontSize":72,"color":"#231f20"},"encoding":{"text":{"field":"t"}}},
{"data":{"values":[{"x":1982,"y":5.8,"t":"10000(Eu/Eu*)/Y"}]},"mark":{"type":"text","align":"right","baseline":"middle","font":"Liberation Sans, Arial","fontSize":66,"color":"#231f20"},"encoding":{"text":{"field":"t"}}},
{"data":{"values":[{"x":886,"y":117.9,"t":"P&PS"},{"x":578,"y":73.2,"t":"NPS"},{"x":241,"y":41.6,"t":"BS"}]},"mark":{"type":"text","align":"center","baseline":"middle","font":"Liberation Sans, Arial","fontWeight":"bold","fontSize":84,"color":"#231f20"},"encoding":{"text":{"field":"t"}}},
{"data":{"values":[{}]},"mark":{"type":"rect","filled":false,"stroke":"#231f20","strokeWidth":5},"encoding":{"x":{"datum":0,"type":"quantitative"},"x2":{"datum":2000},"y":{"datum":0,"type":"quantitative"},"y2":{"datum":150}}}
]
},
{
"width":1776,"height":1302,
"encoding":{
"x":{"field":"x","type":"quantitative","scale":{"type":"log","domain":[0.1,100],"nice":false},"axis":{"values":[0.1,0.2,0.3,0.4,0.5,0.6,0.7,0.8,0.9,1,2,3,4,5,6,7,8,9,10,20,30,40,50,60,70,80,90,100],"labelExpr":"indexof([0.1,1,10,100], datum.value) >= 0 ? format(datum.value, '~g') : ''","tickSize":{"condition":{"test":"indexof([0.1,1,10,100], datum.value) >= 0","value":19},"value":13}}},
"y":{"field":"y","type":"quantitative","scale":{"type":"log","domain":[1,1000],"nice":false},"axis":{"values":[1,2,3,4,5,6,7,8,9,10,20,30,40,50,60,70,80,90,100,200,300,400,500,600,700,800,900,1000],"labelExpr":"indexof([1,10,100,1000], datum.value) >= 0 ? format(datum.value, '~g') : ''","tickSize":{"condition":{"test":"indexof([1,10,100,1000], datum.value) >= 0","value":19},"value":13}}}
},
"layer":[
{"data":{"values":[{"x":0.1,"x2":100,"y":1,"y2":1000}]},"mark":{"type":"rect","fill":"#fde5e7"},"encoding":{"x2":{"field":"x2"},"y2":{"field":"y2"}}},
{"data":{"values":[{"x":2.55,"x2":100,"y":1,"y2":16.3}]},"mark":{"type":"rect","fill":"#f4f4f6"},"encoding":{"x2":{"field":"x2"},"y2":{"field":"y2"}}},
{"data":{"values":[{"x":5,"x2":100,"y":1,"y2":8}]},"mark":{"type":"rect","fill":"#fefef2"},"encoding":{"x2":{"field":"x2"},"y2":{"field":"y2"}}},
{"data":{"name":"gray_d"},"mark":{"type":"line","fill":"#bcbcbc","fillOpacity":0.75,"strokeWidth":0},"encoding":{"order":{"value":null}}},
{"data":{"name":"pink_d"},"mark":{"type":"line","fill":"#d784ac","fillOpacity":0.85,"strokeWidth":0},"encoding":{"order":{"value":null}}},
{"data":{"name":"pdash_d"},"mark":{"type":"line","stroke":"#e6007e","strokeWidth":5,"strokeDash":[18,10]},"encoding":{"order":{"value":null}}},
{"data":{"values":[{"x":2.55,"x2":100,"y":1,"y2":16.3}]},"mark":{"type":"rect","filled":false,"stroke":"#8450a0","strokeWidth":5},"encoding":{"x2":{"field":"x2"},"y2":{"field":"y2"}}},
{"data":{"values":[{"x":5,"x2":100,"y":1,"y2":8}]},"mark":{"type":"rect","filled":false,"stroke":"#e41f26","strokeWidth":5},"encoding":{"x2":{"field":"x2"},"y2":{"field":"y2"}}},
{"data":{"name":"drop_d"},"mark":{"type":"line","stroke":"#231f20","strokeWidth":6,"strokeDash":[14,9],"interpolate":"cardinal-closed"},"encoding":{"order":{"value":null}}},
{"data":{"name":"arr_d"},"mark":{"type":"line","stroke":"#9a9a9a","strokeWidth":10},"encoding":{"order":{"value":null}}},
{"data":{"values":[{"x":0.2427,"y":208.4}]},"mark":{"type":"point","shape":"M0,-1L0.7,0.6L0,0.35L-0.7,0.6Z","size":8000,"filled":true,"fill":"#9a9a9a","strokeWidth":0,"angle":-51}},
{"data":{"name":"pts_d"},"mark":{"type":"point","filled":true,"stroke":"#231f20","opacity":1},
"encoding":{
"shape":{"field":"c","type":"nominal","legend":null,"scale":{"domain":["sq","tri","red","star","burst","osq","plus","ocirc","dot"],"range":["square","triangle-up","circle","M0,-1L0.235,-0.324L0.951,-0.309L0.38,0.124L0.588,0.809L0,0.4L-0.588,0.809L-0.38,0.124L-0.951,-0.309L-0.235,-0.324Z","M1,0L0.6,0.249L0.707,0.707L0.249,0.6L0,1L-0.249,0.6L-0.707,0.707L-0.6,0.249L-1,0L-0.6,-0.249L-0.707,-0.707L-0.249,-0.6L0,-1L0.249,-0.6L0.707,-0.707L0.6,-0.249Z","square","M-1,0L1,0M0,-1L0,1","circle","circle"]}},
"fill":{"field":"c","type":"nominal","legend":null,"scale":{"domain":["sq","tri","red","star","burst","osq","plus","ocirc","dot"],"range":["#231f20","#fff200","#e31e24","#00a651","#3d8fd6","transparent","transparent","transparent","#231f20"]}},
"strokeWidth":{"field":"c","type":"ordinal","legend":null,"scale":{"domain":["sq","tri","red","star","burst","osq","plus","ocirc","dot"],"range":[1,2,2,2,2,5.5,5,5.5,1]}},
"size":{"field":"c","type":"ordinal","legend":null,"scale":{"domain":["sq","tri","red","star","burst","osq","plus","ocirc","dot"],"range":[800,850,750,1900,1200,700,750,700,800]}}}},
{"data":{"values":[{"x":0.111,"y":748,"t":"100[(Rb/Sr)/FeO*]"}]},"mark":{"type":"text","align":"left","baseline":"middle","font":"Liberation Sans, Arial","fontSize":66,"color":"#231f20"},"encoding":{"text":{"field":"t"}}},
{"data":{"values":[{"x":90.6,"y":748,"t":"(г)"}]},"mark":{"type":"text","align":"right","baseline":"middle","font":"Liberation Sans, Arial","fontSize":72,"color":"#231f20"},"encoding":{"text":{"field":"t"}}},
{"data":{"values":[{"x":90.6,"y":1.32,"t":"(Sr/Y)/Y"}]},"mark":{"type":"text","align":"right","baseline":"middle","font":"Liberation Sans, Arial","fontSize":66,"color":"#231f20"},"encoding":{"text":{"field":"t"}}},
{"data":{"values":[{"x":11.15,"y":310,"t":"BS"},{"x":55.1,"y":11.0,"t":"NPS"},{"x":47.5,"y":2.56,"t":"P&PS"}]},"mark":{"type":"text","align":"center","baseline":"middle","font":"Liberation Sans, Arial","fontWeight":"bold","fontSize":84,"color":"#231f20"},"encoding":{"text":{"field":"t"}}},
{"data":{"values":[{"x":0.169,"y":447,"t":"Тренд малоглубинного"},{"x":0.165,"y":317,"t":"(корового) фракционирования"}]},"mark":{"type":"text","align":"left","baseline":"middle","font":"Liberation Sans, Arial","fontStyle":"italic","fontSize":58,"color":"#6d6e71"},"encoding":{"text":{"field":"t"}}},
{"data":{"values":[{"x":17.4,"y":143.6,"t":"Фракционирование"},{"x":17.4,"y":106,"t":"Pl / Pl+Amp ± Gr"},{"x":17.4,"y":79.6,"t":"в глубинных"},{"x":17.4,"y":58.9,"t":"магматических"},{"x":17.4,"y":44.1,"t":"камерах"}]},"mark":{"type":"text","align":"center","baseline":"middle","font":"Liberation Sans, Arial","fontStyle":"italic","fontSize":50,"color":"#231f20"},"encoding":{"text":{"field":"t"}}},
{"data":{"values":[{}]},"mark":{"type":"rect","filled":false,"stroke":"#231f20","strokeWidth":5},"encoding":{"x":{"datum":0.1,"type":"quantitative"},"x2":{"datum":100},"y":{"datum":1,"type":"quantitative"},"y2":{"datum":1000}}}
]
}
]
}
